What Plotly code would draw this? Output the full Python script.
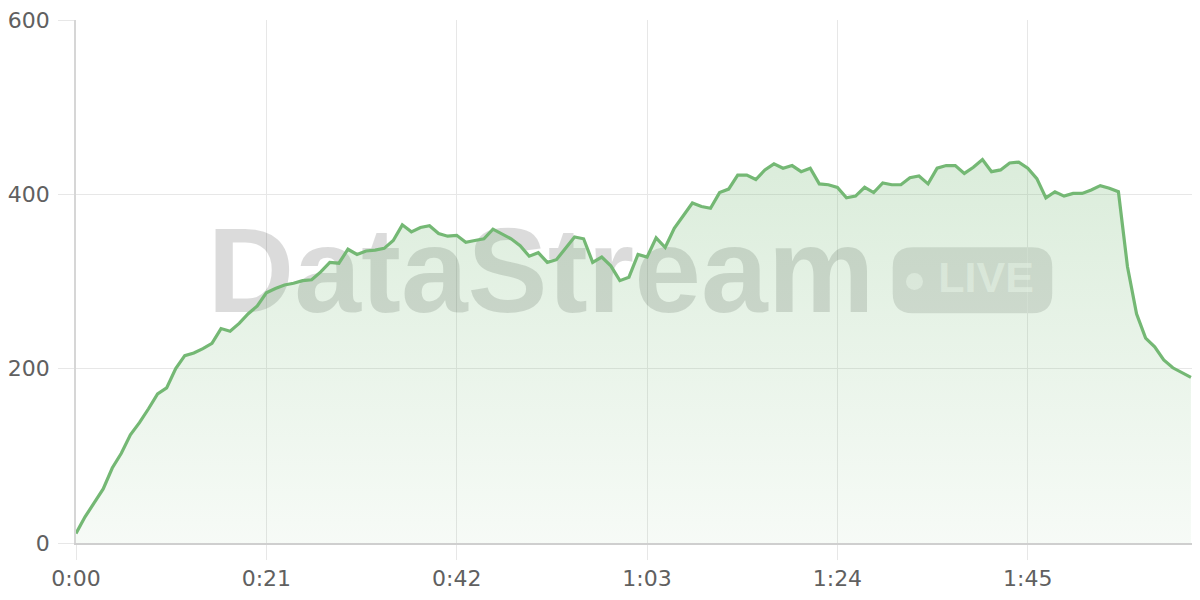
import plotly.graph_objects as go

# seconds elapsed (one sample per second)
seconds = list(range(124))
values = [
    11, 30, 46, 62, 86, 103, 124, 138, 154, 171, 178, 200, 215, 218, 223, 229, 246, 243, 252, 263, 272, 287,
    292, 296, 298, 301, 302, 311, 322, 321, 337, 331, 335, 336, 338, 347, 365, 357, 362, 364, 355, 352, 353,
    345, 347, 349, 360, 355, 349, 341, 329, 333, 322, 325, 338, 351, 349, 322, 328, 318, 301, 305, 331, 328,
    350, 339, 361, 376, 390, 386, 384, 402, 406, 422, 422, 417, 428, 435, 430, 433, 426, 430, 412, 411, 408,
    396, 398, 408, 402, 413, 411, 411, 419, 421, 412, 430, 433, 433, 424, 431, 440, 426, 428, 436, 437, 430,
    418, 396, 403, 398, 401, 401, 405, 410, 407, 403, 317, 263, 235, 225, 210, 201, 195, 190,
]
tick_vals = [0, 21, 42, 63, 84, 105]
tick_text = ["0:00", "0:21", "0:42", "1:03", "1:24", "1:45"]
y_ticks = [0, 200, 400, 600]

GREEN = "rgb(116,184,116)"
GRID = "#e7e7e7"

fig = go.Figure()

# watermark (drawn beneath the series so the fill tints it)
fig.add_trace(go.Scatter(
    x=[51.3], y=[299], mode="text", text=["DataStream"],
    textfont=dict(family="Liberation Sans", size=120, color="rgba(0,0,0,0.14)", weight="bold"),
    textposition="middle center", hoverinfo="skip", showlegend=False,
))
fig.add_trace(go.Scatter(
    x=[92.5], y=[300], mode="markers",
    marker=dict(size=17, color="rgba(255,255,255,0.6)", line=dict(width=0)),
    hoverinfo="skip", showlegend=False,
))
fig.add_trace(go.Scatter(
    x=[100.4], y=[300], mode="text", text=["LIVE"],
    textfont=dict(family="Liberation Sans Narrow, Liberation Sans", size=43, color="rgba(255,255,255,0.6)", weight="bold"),
    textposition="middle center", hoverinfo="skip", showlegend=False,
))

fig.add_trace(go.Scatter(
    x=seconds, y=values, mode="lines",
    line=dict(color=GREEN, width=3.2),
    fill="tozeroy",
    fillgradient=dict(
        type="vertical",
        colorscale=[[0, "rgba(116,184,116,0.06)"], [1, "rgba(116,184,116,0.26)"]],
        start=0, stop=440,
    ),
    hoverinfo="skip", showlegend=False,
))

# rounded pill for the LIVE badge
x0, x1, y0, y1 = 90.1, 107.7, 263.6, 339.3
rx, ry = 2.2, 23.0
pill = (f"M {x0+rx},{y0} L {x1-rx},{y0} Q {x1},{y0} {x1},{y0+ry} "
        f"L {x1},{y1-ry} Q {x1},{y1} {x1-rx},{y1} L {x0+rx},{y1} "
        f"Q {x0},{y1} {x0},{y1-ry} L {x0},{y0+ry} Q {x0},{y0} {x0+rx},{y0} Z")
fig.add_shape(type="path", path=pill, xref="x", yref="y",
              fillcolor="rgba(0,0,0,0.12)", line=dict(width=0), layer="below")

fig.update_layout(
    width=1192, height=592,
    margin=dict(l=65, r=0, t=11, b=57),
    paper_bgcolor="white", plot_bgcolor="rgba(0,0,0,0)",
    font=dict(family="DejaVu Sans", size=22, color="#606060"),
    xaxis=dict(
        range=[0, 124], tickvals=tick_vals, ticktext=tick_text,
        showgrid=True, gridcolor=GRID, gridwidth=1.2,
        ticks="outside", ticklen=15, tickcolor=GRID, tickwidth=1.2,
        showline=True, linecolor="#cfcfcf", linewidth=1.5,
        zeroline=False, fixedrange=True, ticklabeloverflow="allow",
    ),
    yaxis=dict(
        range=[0, 600], tickvals=y_ticks,
        showgrid=True, gridcolor=GRID, gridwidth=1.2,
        ticks="outside", ticklen=16, tickcolor=GRID, tickwidth=1.2,
        showline=True, linecolor="#d6d6d6", linewidth=1.5,
        zeroline=False, fixedrange=True, ticklabelstandoff=4,
        ticklabeloverflow="allow",
    ),
)

fig.write_html("out.html")
